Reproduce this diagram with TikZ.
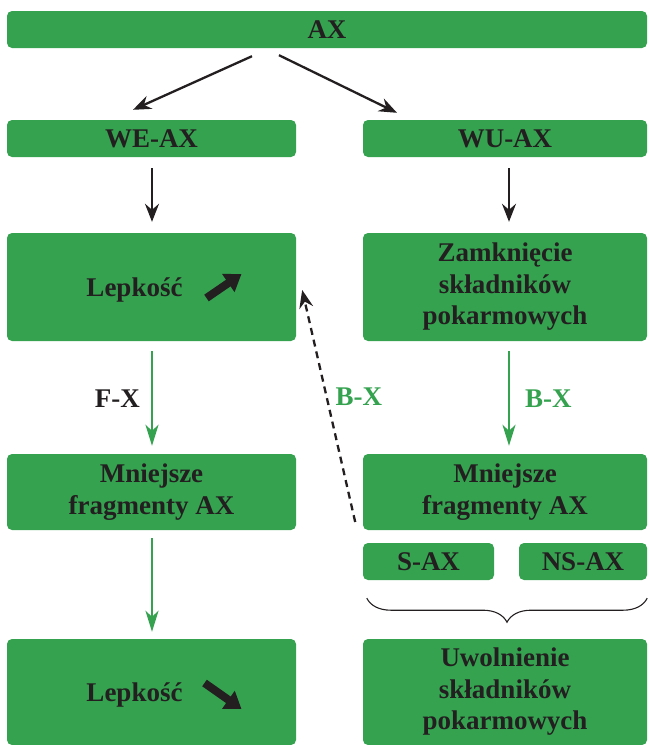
\documentclass[tikz,border=0pt]{standalone}
\usepackage{fontspec}
\setmainfont{Liberation Serif}
\usetikzlibrary{arrows.meta,calc,decorations.pathreplacing}
\definecolor{boxgreen}{RGB}{53,162,80}
\definecolor{ink}{RGB}{35,31,32}
\tikzset{
  box/.style={rounded corners=5pt, fill=boxgreen, draw=none, text=ink, align=center, inner sep=0pt,
    font=\fontsize{27}{31.5}\selectfont\bfseries},
  wide/.style={box, minimum width=289pt},
  narrow/.style={box, minimum width=284pt},
  lbl/.style={font=\fontsize{27}{31.5}\selectfont\bfseries, inner sep=0pt},
  blackarr/.style={line width=2.3pt, ink, -{Stealth[length=18pt,width=14pt,inset=6pt]}},
  greenarr/.style={line width=2.1pt, boxgreen, -{Stealth[length=21pt,width=13pt,inset=6pt]}},
  icon/.style={line width=8pt, ink, -{Triangle[length=16pt,width=21pt]}}
}
\begin{document}
\begin{tikzpicture}[x=1pt, y=-1pt]
  \useasboundingbox (0,0) rectangle (649,745);
  % boxes
  \node[box, minimum width=640pt, minimum height=37pt] (ax) at (327,29.5) {AX};
  \node[wide, minimum height=37pt] (we) at (151.5,138.5) {WE-AX};
  \node[narrow, minimum height=37pt] (wu) at (505,138.5) {WU-AX};
  \node[wide, minimum height=108pt] (lep1) at (151.5,287) {};
  \node[lbl, text=ink] (lep1t) at ($(lep1.center)+(-17,3)$) {Lepkość};
  \node[narrow, minimum height=108pt] (zam) at (505,287) {Zamknięcie\\składników\\pokarmowych};
  \node[wide, minimum height=76pt] (mnl) at (151.5,492) {Mniejsze\\fragmenty AX};
  \node[narrow, minimum height=76pt] (mnr) at (505,492) {Mniejsze\\fragmenty AX};
  \node[box, minimum width=131pt, minimum height=37pt] (sax) at (428.5,561.5) {S-AX};
  \node[box, minimum width=128pt, minimum height=37pt] (nsax) at (583,561.5) {NS-AX};
  \node[narrow, minimum height=106pt] (uwo) at (505,692) {Uwolnienie\\składników\\pokarmowych};
  \node[wide, minimum height=106pt] (lep2) at (151.5,692) {};
  \node[lbl, text=ink] (lep2t) at ($(lep2.center)+(-17,3)$) {Lepkość};
  % trend icons
  \draw[icon] ($(lep1.center)+(55,11)$) -- ($(lep1.center)+(90,-13)$);
  \draw[icon] ($(lep2.center)+(53,-9)$) -- ($(lep2.center)+(90,17)$);
  % connectors
  \draw[blackarr] ($(ax.south)+(-75,8)$) -- ($(we.north)+(-18.5,-10)$);
  \draw[blackarr] ($(ax.south)+(-48,7)$) -- ($(wu.north)+(-108,-7)$);
  \draw[blackarr] ($(we.south)+(0.5,11)$) -- ($(lep1.north)+(0.5,-11)$);
  \draw[blackarr] ($(wu.south)+(4,11)$) -- ($(zam.north)+(4,-11)$);
  \draw[greenarr] ($(lep1.south)+(0.5,10)$) -- ($(mnl.north)+(0.5,-8)$)
    node[lbl, midway, left=11pt, text=ink] {F-X};
  \draw[greenarr] ($(zam.south)+(4,10)$) -- ($(mnr.north)+(4,-8)$)
    node[lbl, midway, right=15pt, text=boxgreen] {B-X};
  \draw[greenarr] ($(mnl.south)+(0.5,8)$) -- ($(lep2.north)+(0.5,-7)$);
  \draw[blackarr, dash pattern=on 7pt off 5pt] ($(mnl.east)+(59,30)$) -- ($(lep1.east)+(6,3)$)
    node[lbl, pos=0.54, right=8pt, text=boxgreen] {B-X};
  % brace
  \coordinate (brl) at ($(sax.south west)+(4,18)$);
  \coordinate (brr) at ($(nsax.south east)+(0,18)$);
  \draw[ink, line width=1.1pt, decorate, decoration={brace, mirror, amplitude=24pt}] (brl) -- (brr);
\end{tikzpicture}
\end{document}
